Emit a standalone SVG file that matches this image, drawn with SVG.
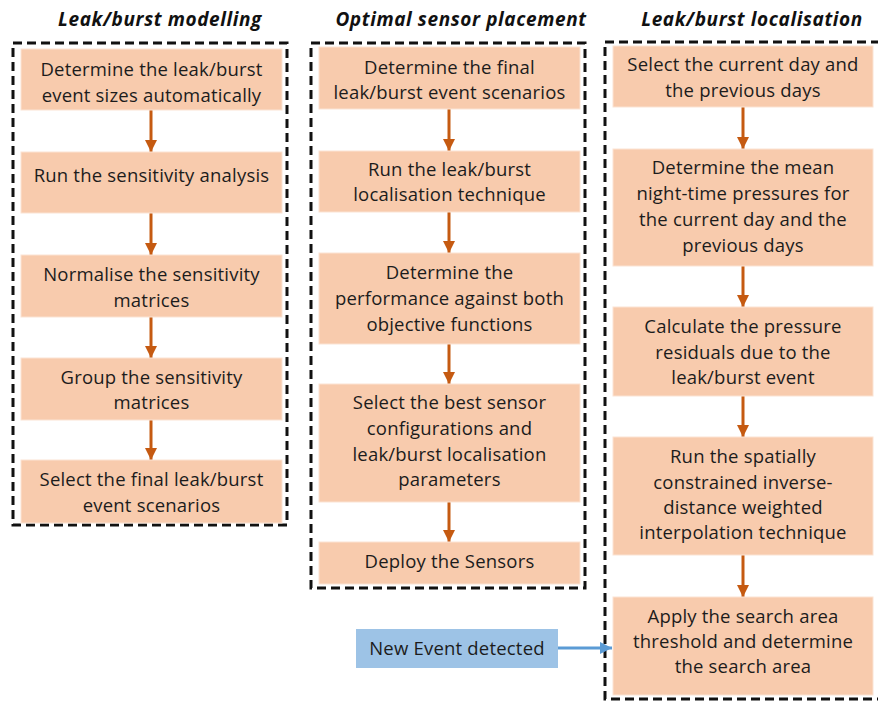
<svg xmlns="http://www.w3.org/2000/svg" width="878" height="702" viewBox="0 0 878 702">
<style>
.bg{fill:#ffffff}
.frame{fill:none;stroke:#111;stroke-width:3;stroke-dasharray:9 5}
.box{fill:#F8CBAD;stroke:#fbe3d3;stroke-width:1}
.blue{fill:#9DC3E6}
.t{font-family:"Open Sans","Liberation Sans",Arial,sans-serif;font-size:18.5px;letter-spacing:0.2px;fill:#1c1c1c;text-anchor:middle}
.title{font-family:"Open Sans","Liberation Sans",Arial,sans-serif;font-size:19px;letter-spacing:0.6px;font-weight:700;font-style:italic;fill:#111;text-anchor:middle}
.arr{stroke:#C55A11;stroke-width:3;fill:none;marker-end:url(#ah)}
.barr{stroke:#5B9BD5;stroke-width:3;fill:none;marker-end:url(#bh)}
</style>
<defs>
<marker id="ah" markerUnits="userSpaceOnUse" markerWidth="12" markerHeight="12" viewBox="0 0 12 12" refX="12" refY="6" orient="auto"><path d="M0,0 L12,6 L0,12 Z" fill="#C55A11"/></marker>
<marker id="bh" markerUnits="userSpaceOnUse" markerWidth="12" markerHeight="12" viewBox="0 0 12 12" refX="12" refY="6" orient="auto"><path d="M0,0 L12,6 L0,12 Z" fill="#5B9BD5"/></marker>
</defs>
<rect class="bg" x="0" y="0" width="878" height="702"/>

<g id="titles">
<text class="title" x="160" y="26">Leak/burst modelling</text>
<text class="title" x="461" y="26">Optimal sensor placement</text>
<text class="title" x="752" y="26">Leak/burst localisation</text>
</g>

<g id="frames">
<rect class="frame" x="13" y="43" width="274" height="482"/>
<rect class="frame" x="311" y="43" width="274" height="545"/>
<rect class="frame" x="605" y="42" width="295" height="657"/>
</g>

<g id="connectors">
<line class="arr" x1="151" y1="110" x2="151" y2="152"/>
<line class="arr" x1="151" y1="213" x2="151" y2="255"/>
<line class="arr" x1="151" y1="317" x2="151" y2="358"/>
<line class="arr" x1="151" y1="420" x2="151" y2="460"/>
<line class="arr" x1="449" y1="109" x2="449" y2="151"/>
<line class="arr" x1="449" y1="212" x2="449" y2="253"/>
<line class="arr" x1="449" y1="344" x2="449" y2="384"/>
<line class="arr" x1="449" y1="502" x2="449" y2="542"/>
<line class="arr" x1="743" y1="107" x2="743" y2="149"/>
<line class="arr" x1="743" y1="266" x2="743" y2="307"/>
<line class="arr" x1="743" y1="396" x2="743" y2="437"/>
<line class="arr" x1="743" y1="555" x2="743" y2="597"/>
<line class="barr" x1="558" y1="648" x2="612" y2="648"/>
</g>

<g id="l1"><rect class="box" x="21" y="49" width="261" height="61"/><text class="t" x="151.5" y="76">Determine the leak/burst</text><text class="t" x="151.5" y="102">event sizes automatically</text></g>
<g id="l2"><rect class="box" x="21" y="152" width="261" height="61"/><text class="t" x="151.5" y="182">Run the sensitivity analysis</text></g>
<g id="l3"><rect class="box" x="21" y="255" width="261" height="62"/><text class="t" x="151.5" y="281">Normalise the sensitivity</text><text class="t" x="151.5" y="307">matrices</text></g>
<g id="l4"><rect class="box" x="21" y="358" width="261" height="62"/><text class="t" x="151.5" y="384">Group the sensitivity</text><text class="t" x="151.5" y="409">matrices</text></g>
<g id="l5"><rect class="box" x="21" y="460" width="261" height="63"/><text class="t" x="151.5" y="486">Select the final leak/burst</text><text class="t" x="151.5" y="512">event scenarios</text></g>

<g id="m1"><rect class="box" x="319" y="47" width="261" height="62"/><text class="t" x="449.5" y="74">Determine the final</text><text class="t" x="449.5" y="99">leak/burst event scenarios</text></g>
<g id="m2"><rect class="box" x="319" y="151" width="261" height="61"/><text class="t" x="449.5" y="176">Run the leak/burst</text><text class="t" x="449.5" y="201">localisation technique</text></g>
<g id="m3"><rect class="box" x="319" y="253" width="261" height="91"/><text class="t" x="449.5" y="279">Determine the</text><text class="t" x="449.5" y="305">performance against both</text><text class="t" x="449.5" y="331">objective functions</text></g>
<g id="m4"><rect class="box" x="319" y="384" width="261" height="118"/><text class="t" x="449.5" y="409">Select the best sensor</text><text class="t" x="449.5" y="435">configurations and</text><text class="t" x="449.5" y="461">leak/burst localisation</text><text class="t" x="449.5" y="486">parameters</text></g>
<g id="m5"><rect class="box" x="319" y="542" width="261" height="42"/><text class="t" x="449.5" y="568">Deploy the Sensors</text></g>

<g id="r1"><rect class="box" x="613" y="46" width="260" height="61"/><text class="t" x="743" y="71">Select the current day and</text><text class="t" x="743" y="97">the previous days</text></g>
<g id="r2"><rect class="box" x="613" y="149" width="260" height="117"/><text class="t" x="743" y="174">Determine the mean</text><text class="t" x="743" y="200">night-time pressures for</text><text class="t" x="743" y="226">the current day and the</text><text class="t" x="743" y="252">previous days</text></g>
<g id="r3"><rect class="box" x="613" y="307" width="260" height="89"/><text class="t" x="743" y="333">Calculate the pressure</text><text class="t" x="743" y="359">residuals due to the</text><text class="t" x="743" y="384">leak/burst event</text></g>
<g id="r4"><rect class="box" x="613" y="437" width="260" height="118"/><text class="t" x="743" y="463">Run the spatially</text><text class="t" x="743" y="489">constrained inverse-</text><text class="t" x="743" y="514">distance weighted</text><text class="t" x="743" y="539">interpolation technique</text></g>
<g id="r5"><rect class="box" x="613" y="597" width="260" height="98"/><text class="t" x="743" y="623">Apply the search area</text><text class="t" x="743" y="648">threshold and determine</text><text class="t" x="743" y="673">the search area</text></g>

<g id="newevent"><rect class="blue" x="356" y="629" width="202" height="39"/><text class="t" x="457" y="655">New Event detected</text></g>
</svg>
